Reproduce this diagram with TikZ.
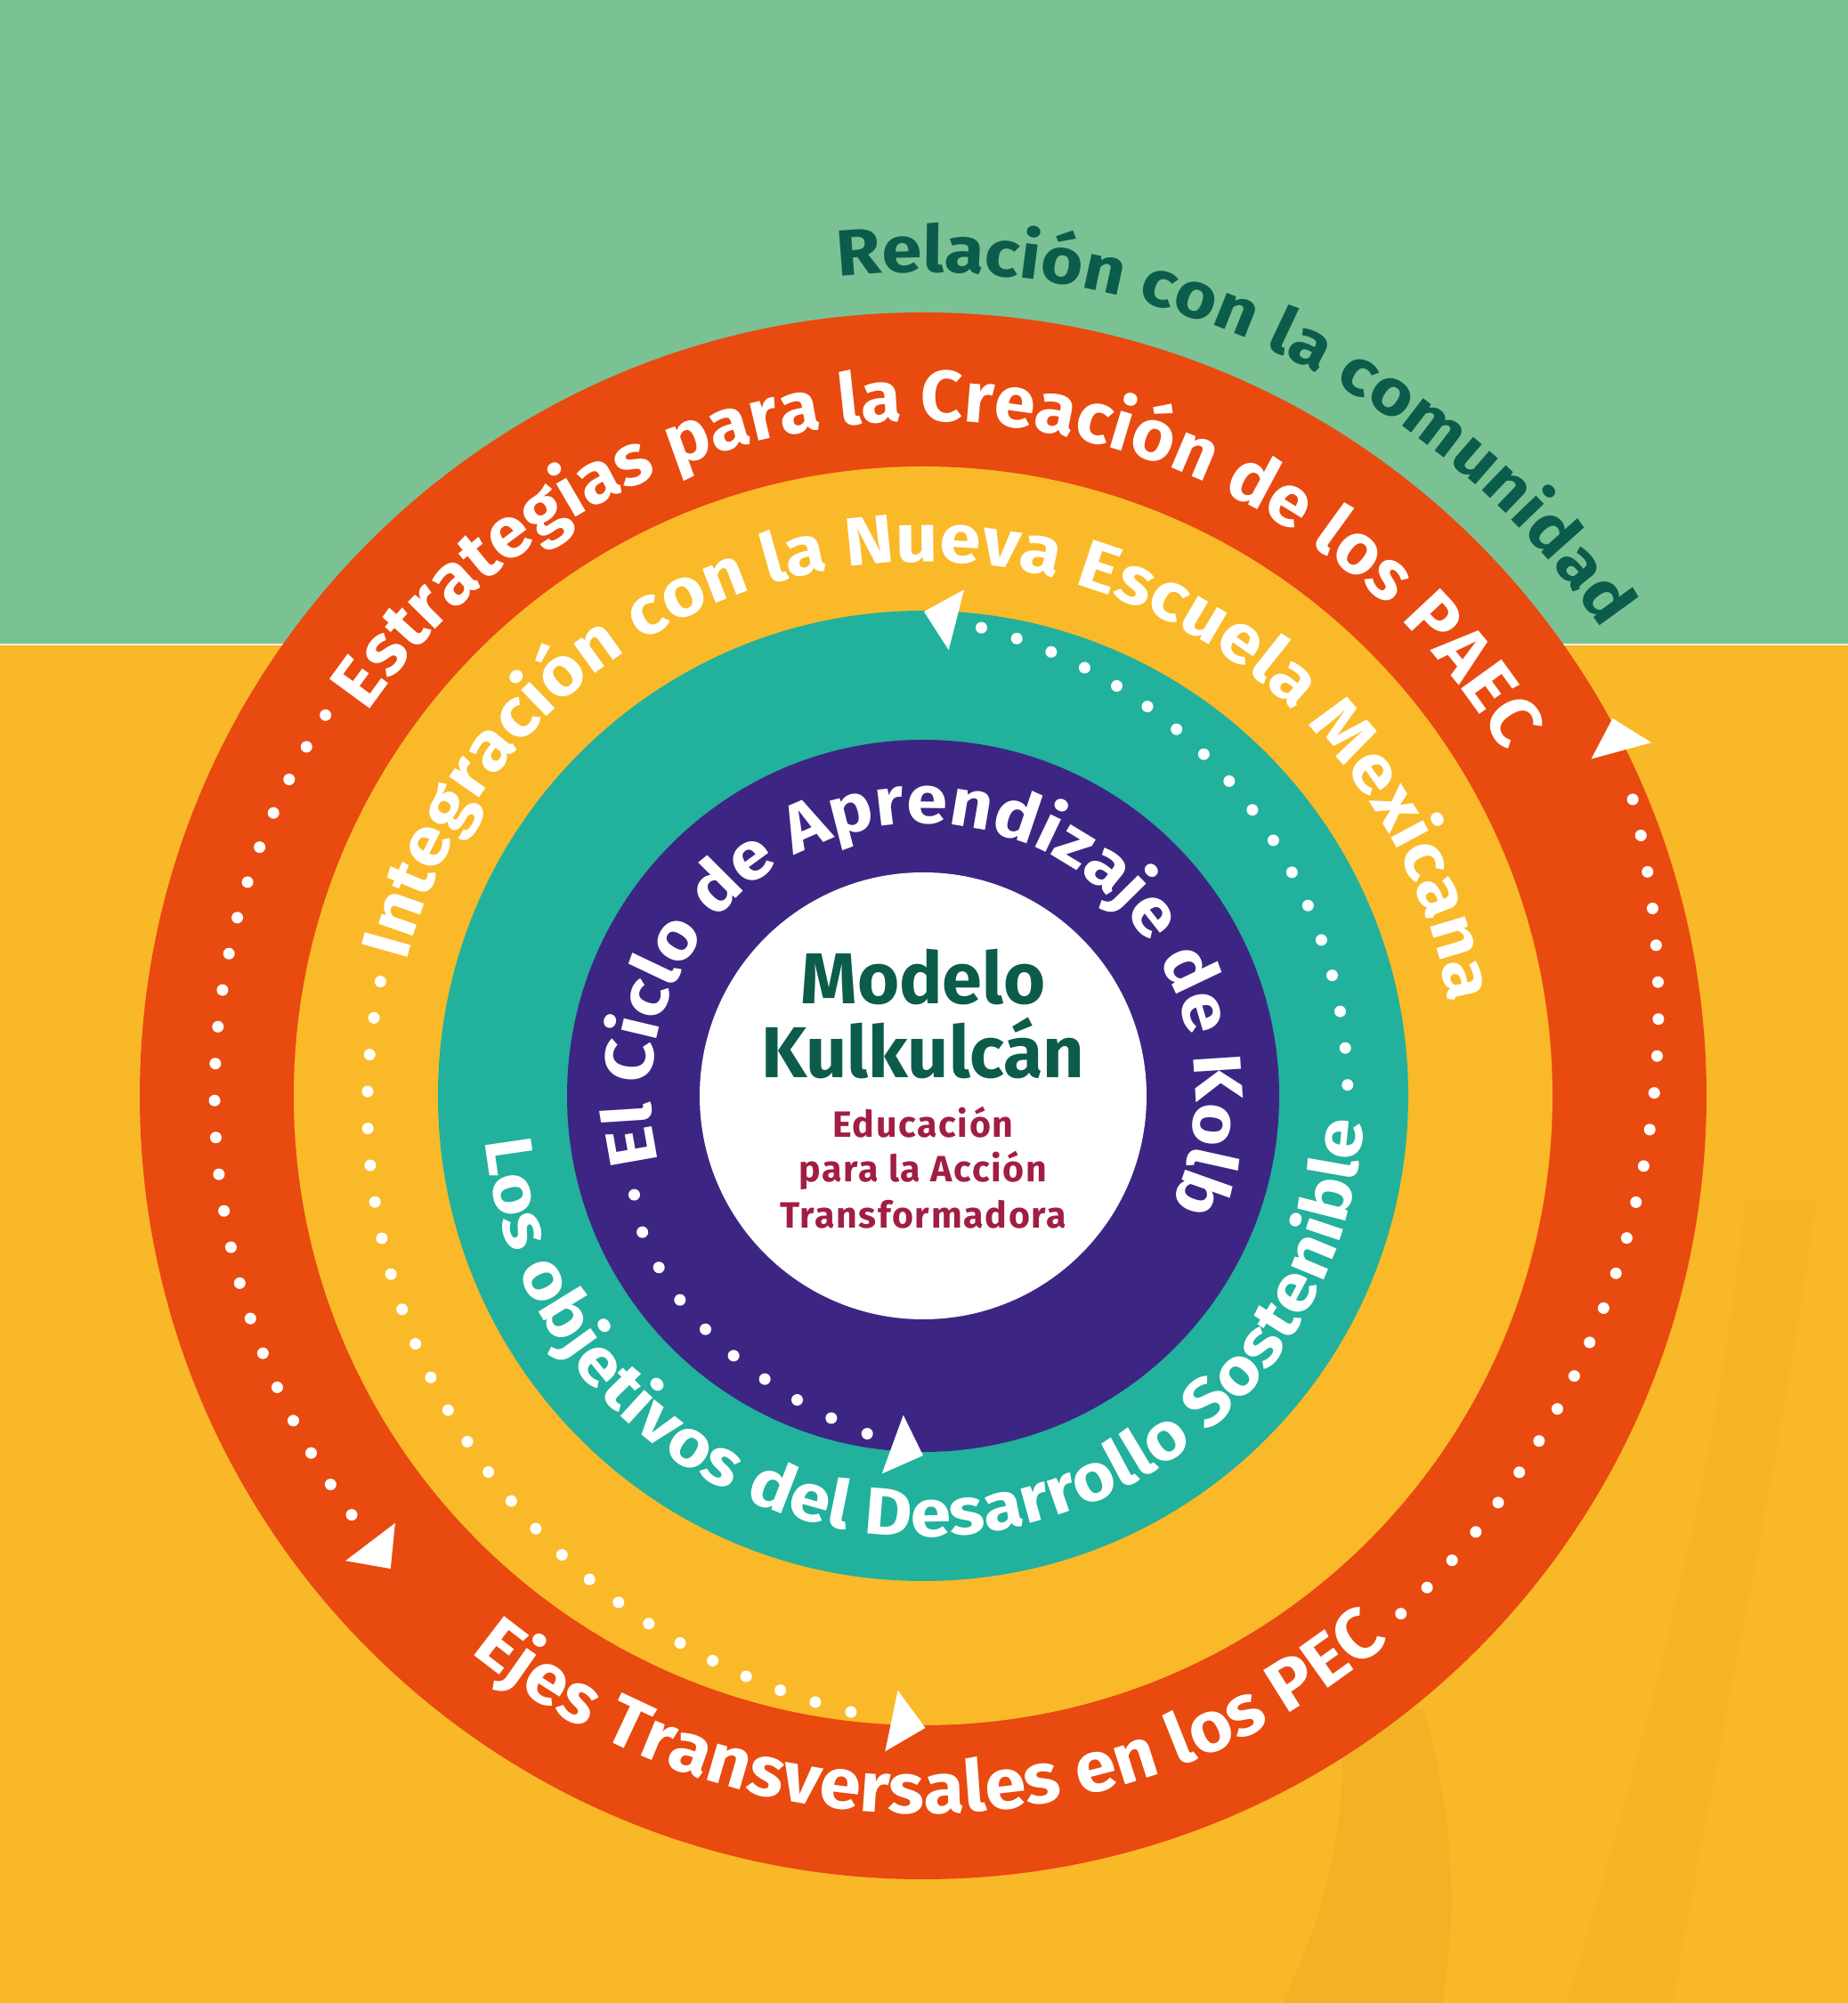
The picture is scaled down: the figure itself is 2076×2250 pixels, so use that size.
\documentclass[tikz,border=0pt]{standalone}
\usepackage{fontspec}
\setmainfont{Fira Sans}
\usetikzlibrary{decorations.text,calc}
\definecolor{bggreen}{HTML}{7AC294}
\definecolor{bgyellow}{HTML}{F9B827}
\definecolor{bgshade}{HTML}{E3A426}
\definecolor{ringorange}{HTML}{E84A10}
\definecolor{ringyellow}{HTML}{FAB928}
\definecolor{ringteal}{HTML}{21B19D}
\definecolor{ringpurple}{HTML}{3D2683}
\definecolor{darkgreen}{HTML}{0C5C4B}
\definecolor{maroontxt}{HTML}{A11E43}
\newcommand\trihead[4]{%
  \coordinate (hb) at (#1:#2);
  \coordinate (ht) at (#3:#4);
  \fill[white] (ht) -- ($(hb)!0.35cm!90:(ht)$) -- ($(hb)!0.35cm!-90:(ht)$) -- cycle;}
\tikzset{
  dotline/.style={draw=white, line width=0.13cm, line cap=round, dash pattern=on 0pt off 0.415cm},
  curvetext/.style={decorate, decoration={text along path, text align=center, text={#1}}},
  centertitle/.style={font=\bfseries\fontsize{23}{25}\selectfont, text=darkgreen, anchor=base, inner sep=0pt},
  centersub/.style={font=\bfseries\fontsize{11.7}{13}\selectfont\addfontfeatures{LetterSpace=4}, text=maroontxt, anchor=base, inner sep=0pt}
}
\begin{document}
\begin{tikzpicture}[x=0.01cm, y=0.01cm]
\useasboundingbox (0,0) rectangle (2076,2250);
\fill[bgyellow] (0,0) rectangle (2076,2250);
\fill[bgshade, opacity=0.25] (1440,0) .. controls (1500,120) and (1515,230) .. (1505,330) -- (1600,330) .. controls (1630,220) and (1640,110) .. (1620,0) -- cycle;
\fill[bgshade, opacity=0.1] (1760,0) .. controls (1850,300) and (1930,600) .. (1960,900) -- (2040,900) .. controls (2000,600) and (1930,300) .. (1880,0) -- cycle;
\fill[bggreen] (0,1526) rectangle (2076,2250);
\draw[white, line width=0.02cm, opacity=0.8] (0,1526) -- (2076,1526);
\begin{scope}[shift={(1037,1019)}]
  \fill[ringorange] (0,0) circle[radius=880];
  \fill[ringyellow] (0,0) circle[radius=707];
  \fill[ringteal] (0,0) circle[radius=545];
  \fill[ringpurple] (0,0) circle[radius=400];
  \fill[white] (0,0) circle[radius=251];

  % curved texts
  \path[curvetext={|\color{darkgreen}\bfseries\fontsize{20.8}{22}\selectfont\addfontfeatures{FakeStretch=1.11}|Relación con la comunidad}]
    (165.2:925) arc[start angle=165.2, end angle=-34.8, radius=925];
  \path[curvetext={|\color{white}\bfseries\fontsize{23}{25}\selectfont\addfontfeatures{FakeStretch=1.025}|Estrategias para la Creación de los PAEC}]
    (198:758) arc[start angle=198, end angle=-22, radius=758];
  \path[curvetext={|\color{white}\bfseries\fontsize{21.9}{24}\selectfont\addfontfeatures{FakeStretch=1.085}|Integración con la Nueva Escuela Mexicana}]
    (207.7:600) arc[start angle=207.7, end angle=-32.3, radius=600];
  \path[curvetext={|\color{white}\bfseries\fontsize{21.3}{23}\selectfont\addfontfeatures{FakeStretch=1.1}|Los objetivos del Desarrollo Sostenible}]
    (141.3:495) arc[start angle=141.3, end angle=401.3, radius=495];
  \path[curvetext={|\color{white}\bfseries\fontsize{22.8}{25}\selectfont\addfontfeatures{FakeStretch=1.045}|Ejes Transversales en los PEC}]
    (150.7:806) arc[start angle=150.7, end angle=390.7, radius=806];
  \path[curvetext={|\color{white}\bfseries\fontsize{21.7}{23}\selectfont\addfontfeatures{FakeStretch=1.085}|El Ciclo de Aprendizaje de Kolb}]
    (235:306) arc[start angle=235, end angle=-65, radius=306];

  % dotted paths
  \draw[dotline] (147.5:796) arc[start angle=147.5, end angle=216.7, radius=796];
  \draw[dotline] plot[domain=-47.3:24.4, samples=60, smooth, variable=\t] (\t:{821+1.483*\t+0.01818*\t*\t});
  \draw[dotline] plot[domain=168.1:264.7, samples=60, smooth, variable=\t] (\t:{623+0.00813*(\t-168)*(\t-168)});
  \draw[dotline] plot[domain=0:81.9, samples=60, smooth, variable=\t] ({82.9-\t}:{477+0.0077*(82.9-\t)*(82.9-\t)});
  \foreach \a/\r in {198.9/343, 205.9/350.6, 213/353.9, 220/356.6, 227/358.5, 233.9/361.3, 240.8/364.5, 247.5/369.7, 254.1/376.4, 260.6/384.7}
    \fill[white] (\a:\r) circle[radius=6.5];

  % arrowheads
  \trihead{218.9}{798}{221.6}{800}
  \trihead{26.3}{875}{28.7}{883}
  \trihead{267.1}{703}{270.2}{710}
  \trihead{86}{536}{89.9}{544}
  \trihead{265}{393}{270}{404}

  % centre
  \node[centertitle] (modelo) at (0,103) {Modelo};
  \node[centertitle] (kulkulcan) at (0,20) {Kulkulcán};
  \node[centersub] (educacion) at (0,-47) {Educación};
  \node[centersub] (paralaaccion) at (0,-97) {para la Acción};
  \node[centersub] (transformadora) at (0,-149) {Transformadora};
\end{scope}
\end{tikzpicture}
\end{document}
